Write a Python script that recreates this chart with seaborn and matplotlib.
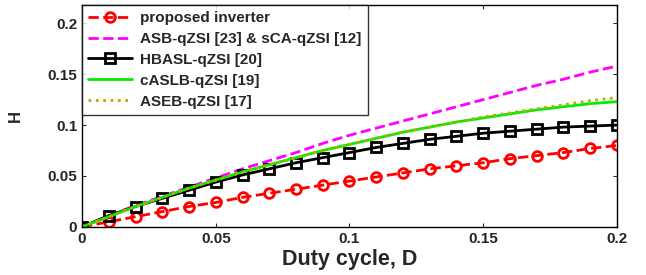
import matplotlib
matplotlib.use("Agg")
import matplotlib.pyplot as plt
from matplotlib.ticker import FuncFormatter
import seaborn as sns

# duty cycle values
duty = [0.00, 0.01, 0.02, 0.03, 0.04, 0.05, 0.06, 0.07, 0.08, 0.09, 0.10,
        0.11, 0.12, 0.13, 0.14, 0.15, 0.16, 0.17, 0.18, 0.19, 0.20]

# H
h_proposed = [0, 0.005, 0.010, 0.015, 0.020, 0.024, 0.029, 0.033, 0.037, 0.041, 0.045,
              0.049, 0.053, 0.057, 0.060, 0.063, 0.067, 0.070, 0.073, 0.077, 0.080]
h_asb = [0, 0.011, 0.021, 0.030, 0.039, 0.048, 0.057, 0.065, 0.073, 0.082, 0.090,
         0.097, 0.104, 0.111, 0.118, 0.125, 0.132, 0.139, 0.145, 0.152, 0.158]
h_hbasl = [0, 0.011, 0.020, 0.028, 0.036, 0.044, 0.051, 0.057, 0.063, 0.068, 0.073,
           0.078, 0.082, 0.086, 0.089, 0.092, 0.094, 0.096, 0.098, 0.099, 0.100]
h_caslb = [0, 0.010, 0.020, 0.029, 0.038, 0.046, 0.054, 0.061, 0.068, 0.075, 0.081,
           0.087, 0.093, 0.098, 0.103, 0.107, 0.111, 0.115, 0.118, 0.121, 0.123]
h_aseb = [0, 0.010, 0.020, 0.029, 0.038, 0.046, 0.054, 0.061, 0.068, 0.075, 0.081,
          0.087, 0.093, 0.098, 0.103, 0.108, 0.112, 0.116, 0.120, 0.124, 0.127]

sns.set_style("ticks")
plt.rcParams["font.family"] = ["Liberation Sans", "DejaVu Sans"]
plt.rcParams["font.weight"] = "bold"

fig = plt.figure(figsize=(6.46, 2.75), dpi=100)
ax = fig.add_axes([0.127, 0.175, 0.828, 0.807])

sns.lineplot(x=duty, y=h_proposed, ax=ax, color="red", linestyle="--", linewidth=2,
             marker="o", markersize=7, markerfacecolor="none", markeredgecolor="red",
             markeredgewidth=2, label="proposed inverter")
sns.lineplot(x=duty, y=h_asb, ax=ax, color="magenta", linestyle="--", linewidth=2,
             label="ASB-qZSI [23] & sCA-qZSI [12]")
sns.lineplot(x=duty, y=h_hbasl, ax=ax, color="black", linestyle="-", linewidth=2,
             marker="s", markersize=6.5, markerfacecolor="none", markeredgecolor="black",
             markeredgewidth=2, label="HBASL-qZSI [20]")
sns.lineplot(x=duty, y=h_caslb, ax=ax, color="#00ee00", linestyle="-", linewidth=2,
             label="cASLB-qZSI [19]")
sns.lineplot(x=duty, y=h_aseb, ax=ax, color="#bbaa00", linestyle=":", linewidth=2,
             label="ASEB-qZSI [17]")

ax.set_xlim(0, 0.2)
ax.set_ylim(0, 0.218)
ax.set_xticks([0, 0.05, 0.1, 0.15, 0.2])
ax.set_yticks([0, 0.05, 0.1, 0.15, 0.2])
fmt = FuncFormatter(lambda v, p: f"{v:g}")
ax.xaxis.set_major_formatter(fmt)
ax.yaxis.set_major_formatter(fmt)
ax.tick_params(direction="in", top=True, right=True, labelsize=11, length=3)
for lab in ax.get_xticklabels() + ax.get_yticklabels():
    lab.set_fontweight("bold")
for s in ax.spines.values():
    s.set_linewidth(1)
    s.set_color("black")

ax.set_xlabel("Duty cycle, D", fontsize=15.5, fontweight="bold", labelpad=2)
ax.set_ylabel("H", fontsize=12, fontweight="bold", labelpad=18)

leg = ax.legend(loc="upper left", fontsize=11, handlelength=2.9, handletextpad=0.5,
                frameon=True, fancybox=False, edgecolor="black", borderaxespad=0,
                labelspacing=0.45, borderpad=0.4)
leg.get_frame().set_linewidth(1)
for t in leg.get_texts():
    t.set_fontweight("bold")

fig.savefig("out.png", dpi=100)
